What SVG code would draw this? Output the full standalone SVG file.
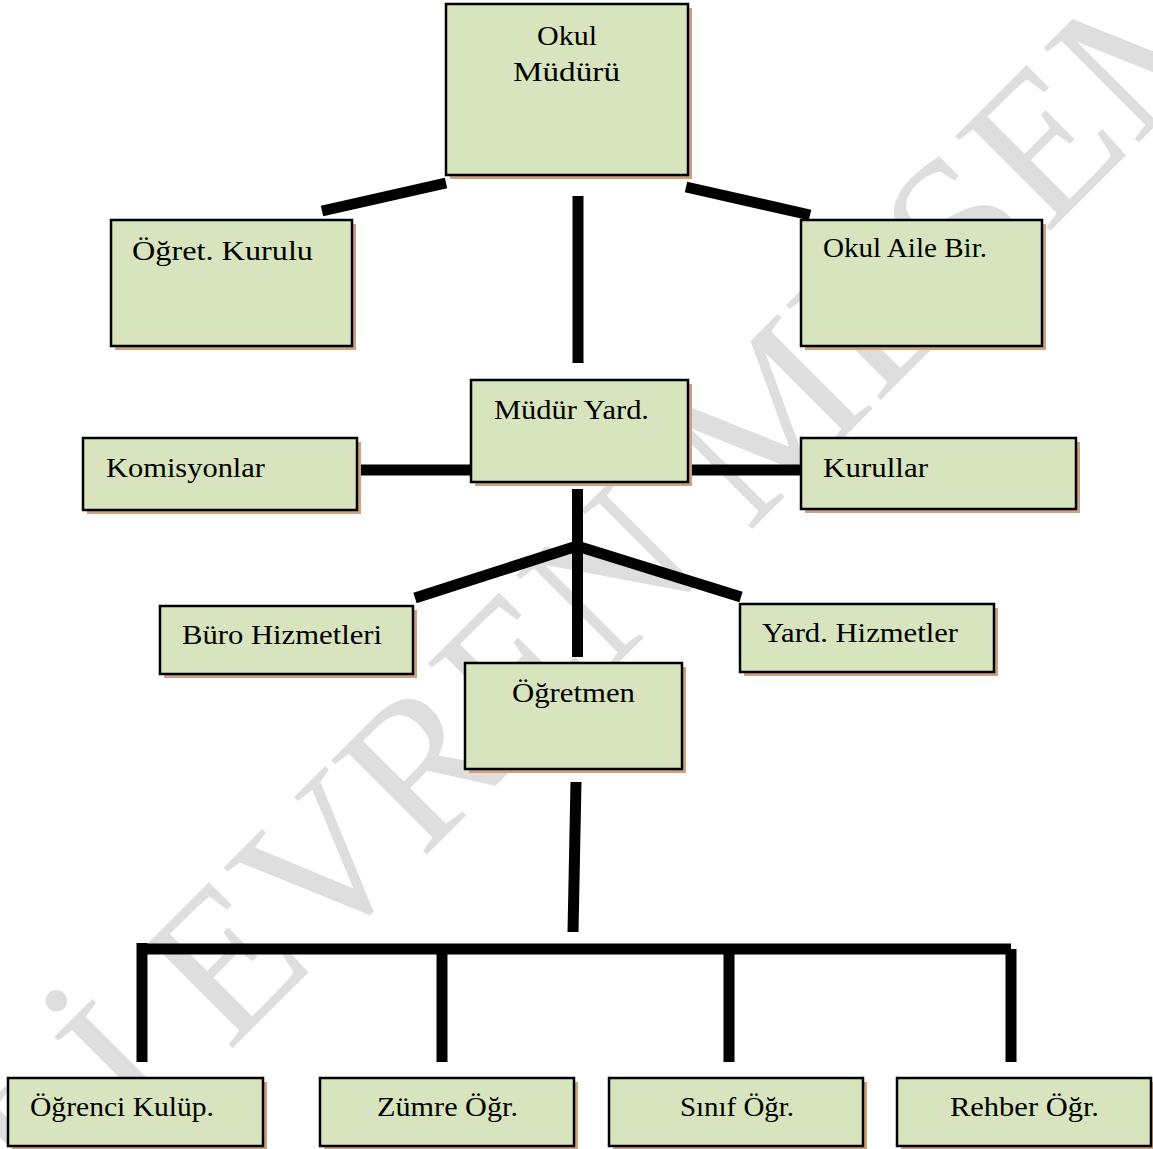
<svg xmlns="http://www.w3.org/2000/svg" width="1153" height="1149" viewBox="0 0 1153 1149">
<style>
.sh{fill:#cca283}
.bx{fill:#d7e4bd;stroke:#000;stroke-width:2.5}
.t{font-family:"Liberation Serif","Times New Roman",serif;font-size:28px;fill:#000}
.c{stroke:#000;stroke-width:11;fill:none;stroke-linecap:butt}
.wm{font-family:"Liberation Serif","Times New Roman",serif;font-size:205px;fill:#dedede}
</style>
<rect width="1153" height="1149" fill="#fff"/>
<g id="watermark" transform="translate(682,503) rotate(-45)">
<text class="wm" x="-954" y="68">Lİ EVREN MESEM</text>
</g>
<g id="connectors">
<line class="c" x1="322" y1="211" x2="446" y2="183" stroke-width="9"/>
<line class="c" x1="686" y1="187" x2="810" y2="215" stroke-width="9"/>
<line class="c" x1="578" y1="196" x2="578" y2="363"/>
<line class="c" x1="358" y1="470" x2="471" y2="470"/>
<line class="c" x1="691" y1="470" x2="805" y2="470"/>
<line class="c" x1="577.5" y1="489" x2="577.5" y2="657"/>
<polyline class="c" points="415,598 577,546 741,597"/>
<line class="c" x1="576" y1="782" x2="573" y2="932"/>
<line class="c" x1="142" y1="949" x2="1011" y2="949" stroke-width="12"/>
<line class="c" x1="142" y1="943" x2="142" y2="1062"/>
<line class="c" x1="442" y1="949" x2="442" y2="1062"/>
<line class="c" x1="729" y1="949" x2="729" y2="1062"/>
<line class="c" x1="1011" y1="949" x2="1011" y2="1062"/>
</g>
<g id="okul-muduru">
<rect class="sh" x="450" y="8" width="242" height="171"/>
<rect class="bx" x="446" y="4" width="242" height="171"/>
<text class="t" x="537" y="45" textLength="60" lengthAdjust="spacingAndGlyphs">Okul</text>
<text class="t" x="513" y="81" textLength="107" lengthAdjust="spacingAndGlyphs">Müdürü</text>
</g>
<g id="ogret-kurulu">
<rect class="sh" x="115" y="224" width="241" height="126"/>
<rect class="bx" x="111" y="220" width="241" height="126"/>
<text class="t" x="132" y="260" textLength="181" lengthAdjust="spacingAndGlyphs">Öğret. Kurulu</text>
</g>
<g id="okul-aile-bir">
<rect class="sh" x="805" y="224" width="241" height="126"/>
<rect class="bx" x="801" y="220" width="241" height="126"/>
<text class="t" x="823" y="257" textLength="164" lengthAdjust="spacingAndGlyphs">Okul Aile Bir.</text>
</g>
<g id="mudur-yard">
<rect class="sh" x="475" y="384" width="217" height="102"/>
<rect class="bx" x="471" y="380" width="217" height="102"/>
<text class="t" x="494" y="419" textLength="155" lengthAdjust="spacingAndGlyphs">Müdür Yard.</text>
</g>
<g id="komisyonlar">
<rect class="sh" x="87" y="442" width="274" height="72"/>
<rect class="bx" x="83" y="438" width="274" height="72"/>
<text class="t" x="106" y="477" textLength="159" lengthAdjust="spacingAndGlyphs">Komisyonlar</text>
</g>
<g id="kurullar">
<rect class="sh" x="805" y="442" width="275" height="71"/>
<rect class="bx" x="801" y="438" width="275" height="71"/>
<text class="t" x="823" y="477" textLength="105" lengthAdjust="spacingAndGlyphs">Kurullar</text>
</g>
<g id="buro-hizmetleri">
<rect class="sh" x="164" y="610" width="253" height="68"/>
<rect class="bx" x="160" y="606" width="253" height="68"/>
<text class="t" x="182" y="644" textLength="200" lengthAdjust="spacingAndGlyphs">Büro Hizmetleri</text>
</g>
<g id="yard-hizmetler">
<rect class="sh" x="744" y="608" width="254" height="68"/>
<rect class="bx" x="740" y="604" width="254" height="68"/>
<text class="t" x="762" y="642" textLength="196" lengthAdjust="spacingAndGlyphs">Yard. Hizmetler</text>
</g>
<g id="ogretmen">
<rect class="sh" x="469" y="667" width="217" height="106"/>
<rect class="bx" x="465" y="663" width="217" height="106"/>
<text class="t" x="512" y="702" textLength="123" lengthAdjust="spacingAndGlyphs">Öğretmen</text>
</g>
<g id="ogrenci-kulup">
<rect class="sh" x="12" y="1082" width="255" height="67"/>
<rect class="bx" x="8" y="1078" width="255" height="68"/>
<text class="t" x="30" y="1116" textLength="184" lengthAdjust="spacingAndGlyphs">Öğrenci Kulüp.</text>
</g>
<g id="zumre-ogr">
<rect class="sh" x="324" y="1082" width="254" height="67"/>
<rect class="bx" x="320" y="1078" width="254" height="68"/>
<text class="t" x="377" y="1116" textLength="141" lengthAdjust="spacingAndGlyphs">Zümre Öğr.</text>
</g>
<g id="sinif-ogr">
<rect class="sh" x="613" y="1082" width="254" height="67"/>
<rect class="bx" x="609" y="1078" width="254" height="68"/>
<text class="t" x="680" y="1116" textLength="114" lengthAdjust="spacingAndGlyphs">Sınıf Öğr.</text>
</g>
<g id="rehber-ogr">
<rect class="sh" x="901" y="1082" width="252" height="67"/>
<rect class="bx" x="897" y="1078" width="254" height="68"/>
<text class="t" x="950" y="1116" textLength="149" lengthAdjust="spacingAndGlyphs">Rehber Öğr.</text>
</g>
</svg>
